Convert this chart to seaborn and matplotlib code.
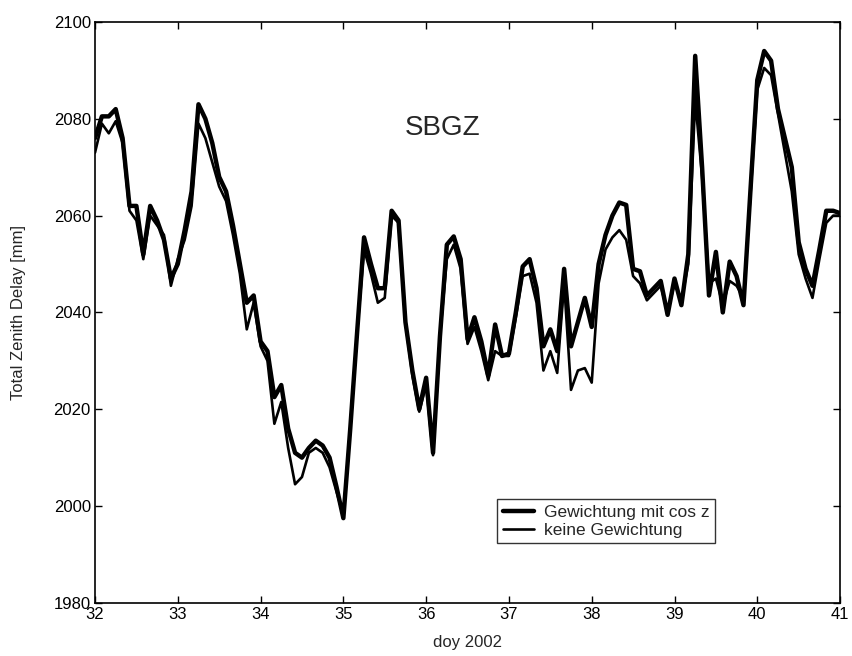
import numpy as np
import pandas as pd
import seaborn as sns
import matplotlib.pyplot as plt
from matplotlib.lines import Line2D

# 2-hourly epochs, day-of-year 32..41
n_per_day = 12
doy = 32 + np.arange(109) / n_per_day

# Gewichtung mit cos z (thick line)
ztd_cos = [
    2076, 2080.5, 2080.5, 2082, 2076, 2062, 2062, 2052, 2062, 2059, 2055, 2047,
    2050, 2057, 2065, 2083, 2080, 2075, 2068, 2065, 2058, 2050, 2042, 2043.5,
    2034, 2032, 2022.5, 2025, 2016, 2011, 2010, 2012, 2013.5, 2012.5, 2010, 2004,
    1997.5, 2016, 2036, 2055.5, 2050, 2045, 2045, 2061, 2059, 2038, 2028, 2020,
    2026.5, 2011, 2035, 2054, 2055.7, 2051, 2034.5, 2039, 2034, 2027, 2037.5, 2031,
    2031.5, 2040, 2049.5, 2051, 2045, 2033, 2036.5, 2032, 2049, 2033, 2038, 2043,
    2037, 2050, 2056, 2060, 2062.7, 2062.2, 2049, 2048.5, 2043.5, 2045, 2046.5, 2039.5,
    2047, 2041.5, 2052, 2093, 2070, 2043.5, 2052.5, 2040, 2050.5, 2047.5, 2041.5, 2065,
    2088, 2094, 2092, 2082, 2076, 2070, 2054.5, 2049, 2045.5, 2053, 2061, 2061,
    2060.5,
]

# keine Gewichtung (thin line)
ztd_none = [
    2073, 2079, 2077, 2079.5, 2075, 2061, 2059, 2051, 2060, 2058, 2056, 2045.5,
    2051, 2055, 2062, 2079, 2076, 2071, 2066, 2063, 2056, 2048, 2036.5, 2042,
    2033, 2030, 2017, 2021.5, 2012, 2004.5, 2006, 2011, 2012, 2011, 2008, 2003,
    1998, 2016, 2036, 2053, 2048, 2042, 2043, 2060, 2058.5, 2038, 2027, 2019.5,
    2025, 2010.5, 2035, 2051, 2054, 2049, 2033.5, 2037, 2032, 2026, 2032, 2031,
    2031, 2039, 2047.5, 2048, 2042, 2028, 2032, 2027.5, 2046, 2024, 2028, 2028.5,
    2025.5, 2046, 2053, 2055.5, 2057, 2055, 2047.5, 2046, 2042.5, 2044, 2045.5, 2040,
    2046, 2042.5, 2050, 2084, 2068, 2046, 2047, 2041.5, 2046.5, 2045.5, 2043, 2064,
    2086, 2090.5, 2089, 2081, 2073, 2065, 2052, 2047, 2043, 2051, 2058.5, 2060,
    2060,
]

labels = ["Gewichtung mit cos z", "keine Gewichtung"]

df = pd.DataFrame({"doy": doy, labels[0]: ztd_cos, labels[1]: ztd_none})
long = df.melt(id_vars="doy", var_name="Lösung", value_name="ZTD")

sns.set_style("ticks")
plt.rcParams["font.family"] = ["Liberation Sans", "DejaVu Sans"]

fig = plt.figure(figsize=(8.52, 6.56), dpi=100)
ax = fig.add_axes([0.1115, 0.081, 0.8745, 0.8855])

lw_thick, lw_thin = 3.2, 1.9
sns.lineplot(data=long, x="doy", y="ZTD", hue="Lösung", size="Lösung",
             sizes={labels[0]: lw_thick, labels[1]: lw_thin},
             palette={labels[0]: "black", labels[1]: "black"},
             ax=ax, legend=False)

ax.set_xlim(32, 41)
ax.set_ylim(1980, 2100)
ax.set_xticks(range(32, 42))
ax.set_yticks(range(1980, 2101, 20))
ax.tick_params(direction="in", top=True, right=True, labelsize=12, length=5,
               width=1, colors="black", pad=3)
for s in ax.spines.values():
    s.set_visible(True)
    s.set_linewidth(1.2)
    s.set_color("black")

ax.set_xlabel("doy 2002", fontsize=12, labelpad=9)
ax.set_ylabel("Total Zenith Delay [mm]", fontsize=12, labelpad=20)
ax.text(36.2, 2078, "SBGZ", fontsize=20, ha="center", va="center")

handles = [Line2D([], [], color="black", lw=lw_thick),
           Line2D([], [], color="black", lw=lw_thin)]
leg = ax.legend(handles, labels, loc="upper left", bbox_to_anchor=(0.54, 0.178),
                fontsize=12.5, frameon=True, fancybox=False, handlelength=1.8,
                handletextpad=0.6, borderpad=0.3, labelspacing=0.15,
                borderaxespad=0)
leg.get_frame().set_edgecolor("black")
leg.get_frame().set_linewidth(1)

fig.savefig("out.png", dpi=100)
